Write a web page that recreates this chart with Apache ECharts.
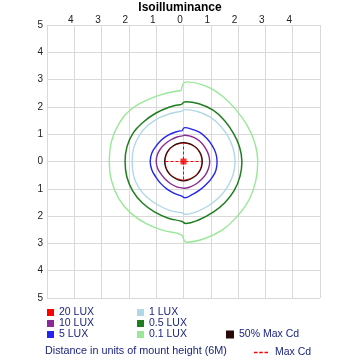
<!DOCTYPE html>
<html>
<head>
<meta charset="utf-8">
<script src="https://cdn.jsdelivr.net/npm/echarts@6/dist/echarts.min.js"></script>
<style>html,body{margin:0;padding:0;background:#fff}#c{width:360px;height:360px}</style>
</head>
<body>
<div id="c"></div>
<script>
// Directions (degrees, counter-clockwise from +x) at which contour radii were read
const angles = [0,15,30,45,60,75,88,92,105,120,135,150,165,180,195,210,225,240,255,268,272,285,300,315,330,345];
// Contour radii (in units of mount height) at each angle
const lux01  = [2.72,2.70,2.68,2.70,2.79,2.89,2.92,2.60,2.58,2.62,2.71,2.74,2.74,2.72,2.73,2.73,2.70,2.65,2.63,2.68,2.96,2.93,2.88,2.81,2.78,2.74];
const lux05  = [2.14,2.12,2.10,2.12,2.17,2.19,2.19,2.09,2.06,2.04,2.06,2.12,2.14,2.14,2.15,2.15,2.14,2.13,2.15,2.19,2.27,2.21,2.15,2.14,2.14,2.14];
const lux1   = [1.89,1.88,1.87,1.88,1.90,1.90,1.90,1.84,1.82,1.83,1.86,1.88,1.89,1.88,1.90,1.90,1.87,1.85,1.86,1.88,1.94,1.90,1.86,1.85,1.86,1.88];
const lux5   = [1.23,1.22,1.20,1.20,1.22,1.22,1.24,1.13,1.12,1.12,1.13,1.15,1.20,1.22,1.20,1.16,1.16,1.18,1.22,1.28,1.33,1.25,1.20,1.18,1.20,1.23];
const lux10  = [0.96,0.95,0.94,0.95,0.96,0.96,0.96,0.94,0.93,0.92,0.93,0.96,0.99,1.00,0.98,0.94,0.93,0.94,0.96,0.97,0.98,0.96,0.94,0.93,0.94,0.95];
const lux20  = [0.67,0.67,0.67,0.67,0.67,0.67,0.67,0.67,0.67,0.67,0.67,0.67,0.67,0.67,0.67,0.67,0.67,0.67,0.67,0.68,0.68,0.67,0.67,0.67,0.67,0.67];
const maxCd50= [0.69,0.69,0.69,0.69,0.69,0.69,0.69,0.69,0.69,0.69,0.69,0.69,0.69,0.69,0.69,0.69,0.69,0.69,0.70,0.71,0.71,0.70,0.69,0.69,0.69,0.69];
// Max candela location and cross-hair half length
const maxCdPoint = [0, 0];
const maxCdHalf = 0.66;
// Axis tick values
const axisMin = -5, axisMax = 5, axisStep = 1;

const names = ['20 LUX','10 LUX','5 LUX','1 LUX','0.5 LUX','0.1 LUX','50% Max Cd','Max Cd'];

// Convert polar readings to x/y; start the loop just right of the top step so the
// only unsmoothed joint falls on that step.
function toXY(radii) {
  const start = angles.indexOf(92);
  const pts = [];
  for (let k = 0; k < radii.length; k++) {
    const i = (start + k) % radii.length;
    const a = angles[i] * Math.PI / 180;
    pts.push([radii[i] * Math.cos(a), radii[i] * Math.sin(a)]);
  }
  pts.push(pts[0]);
  return pts;
}

function contour(name, radii, color, width, z) {
  return {
    name: name, type: 'line', data: toXY(radii), showSymbol: false, symbol: 'none',
    smooth: 0.45, z: z, color: color,
    lineStyle: { color: color, width: width, join: 'round' }, silent: true
  };
}

const navy = '#1c2580';
const font = 'Liberation Sans';
const dashIcon = 'path://M0,0h4v1.5h-4z M6,0h4v1.5h-4z M12,0h4v1.5h-4z';
const legendText = { fontFamily: font, fontSize: 10.5, color: navy, lineHeight: 11 };

const chart = echarts.init(document.getElementById('c'), null, { renderer: 'canvas' });
chart.setOption({
  animation: false,
  backgroundColor: '#fff',
  title: [
    { text: 'Isoilluminance', left: 'center', top: 2, padding: 0,
      textStyle: { fontFamily: font, fontSize: 12, fontWeight: 'bold', color: '#000' } },
    { text: 'Distance in units of mount height (6M)', left: 45, top: 346, padding: 0,
      textStyle: { fontFamily: font, fontSize: 10.8, fontWeight: 'normal', color: navy } }
  ],
  grid: { left: 47, top: 25, width: 273, height: 273 },
  xAxis: {
    type: 'value', position: 'top', min: axisMin, max: axisMax, interval: axisStep,
    axisLine: { show: true, lineStyle: { color: '#d9d9d9' } },
    axisTick: { show: false },
    splitLine: { show: true, lineStyle: { color: '#d9d9d9', width: 1 } },
    axisLabel: { margin: 0, color: '#222', fontFamily: font, fontSize: 10, padding: [0, 7, 0, 0],
      formatter: v => Math.abs(v) === axisMax ? '' : String(Math.abs(v)) }
  },
  yAxis: {
    type: 'value', min: axisMin, max: axisMax, interval: axisStep,
    axisLine: { show: true, lineStyle: { color: '#d9d9d9' } },
    axisTick: { show: false },
    splitLine: { show: true, lineStyle: { color: '#d9d9d9', width: 1 } },
    axisLabel: { margin: 4, color: '#222', fontFamily: font, fontSize: 10,
      formatter: v => String(Math.abs(v)) }
  },
  legend: [
    { data: [names[0], names[1], names[2]].map(n => ({ name: n, icon: 'rect' })),
      orient: 'vertical', left: 47, top: 307, padding: 0, itemGap: 0, itemWidth: 7, itemHeight: 7,
      selectedMode: false, textStyle: legendText },
    { data: [names[3], names[4], names[5]].map(n => ({ name: n, icon: 'rect' })),
      orient: 'vertical', left: 137, top: 307, padding: 0, itemGap: 0, itemWidth: 7, itemHeight: 7,
      selectedMode: false, textStyle: legendText },
    { data: [{ name: names[6], icon: 'rect' }],
      orient: 'vertical', left: 226, top: 329, padding: 0, itemGap: 0, itemWidth: 8, itemHeight: 8,
      selectedMode: false, textStyle: legendText },
    { data: [{ name: names[7], icon: dashIcon }],
      orient: 'vertical', left: 254, top: 347, padding: 0, itemGap: 0, itemWidth: 14, itemHeight: 1.5,
      selectedMode: false, textStyle: Object.assign({}, legendText, { padding: [0, 0, 0, 2] }) }
  ],
  series: [
    contour(names[5], lux01, '#98e898', 1.4, 2),
    contour(names[4], lux05, '#1f7d1f', 1.5, 3),
    contour(names[3], lux1, '#b2d8e6', 1.4, 4),
    contour(names[2], lux5, '#2424f0', 1.4, 5),
    contour(names[1], lux10, '#8a2a94', 1.4, 6),
    contour(names[0], lux20, '#ff0000', 1.0, 7),
    contour(names[6], maxCd50, '#2a0808', 1.2, 8),
    { name: names[7], type: 'line', color: '#ff0000', z: 9, silent: true, showSymbol: false, symbol: 'none',
      lineStyle: { color: '#ff0000', width: 1, type: [3, 2] },
      data: [[maxCdPoint[0] - maxCdHalf, maxCdPoint[1]], [maxCdPoint[0] + maxCdHalf, maxCdPoint[1]]] },
    { name: names[7], type: 'line', color: '#ff0000', z: 9, silent: true, showSymbol: false, symbol: 'none',
      lineStyle: { color: '#ff0000', width: 1, type: [3, 2] },
      data: [[maxCdPoint[0], maxCdPoint[1] - maxCdHalf], [maxCdPoint[0], maxCdPoint[1] + maxCdHalf]] },
    { name: names[7], type: 'scatter', color: '#ff0000', z: 10, silent: true, symbol: 'rect', symbolSize: 6,
      itemStyle: { color: '#ff0000' }, data: [maxCdPoint] }
  ]
});
</script>
</body>
</html>
